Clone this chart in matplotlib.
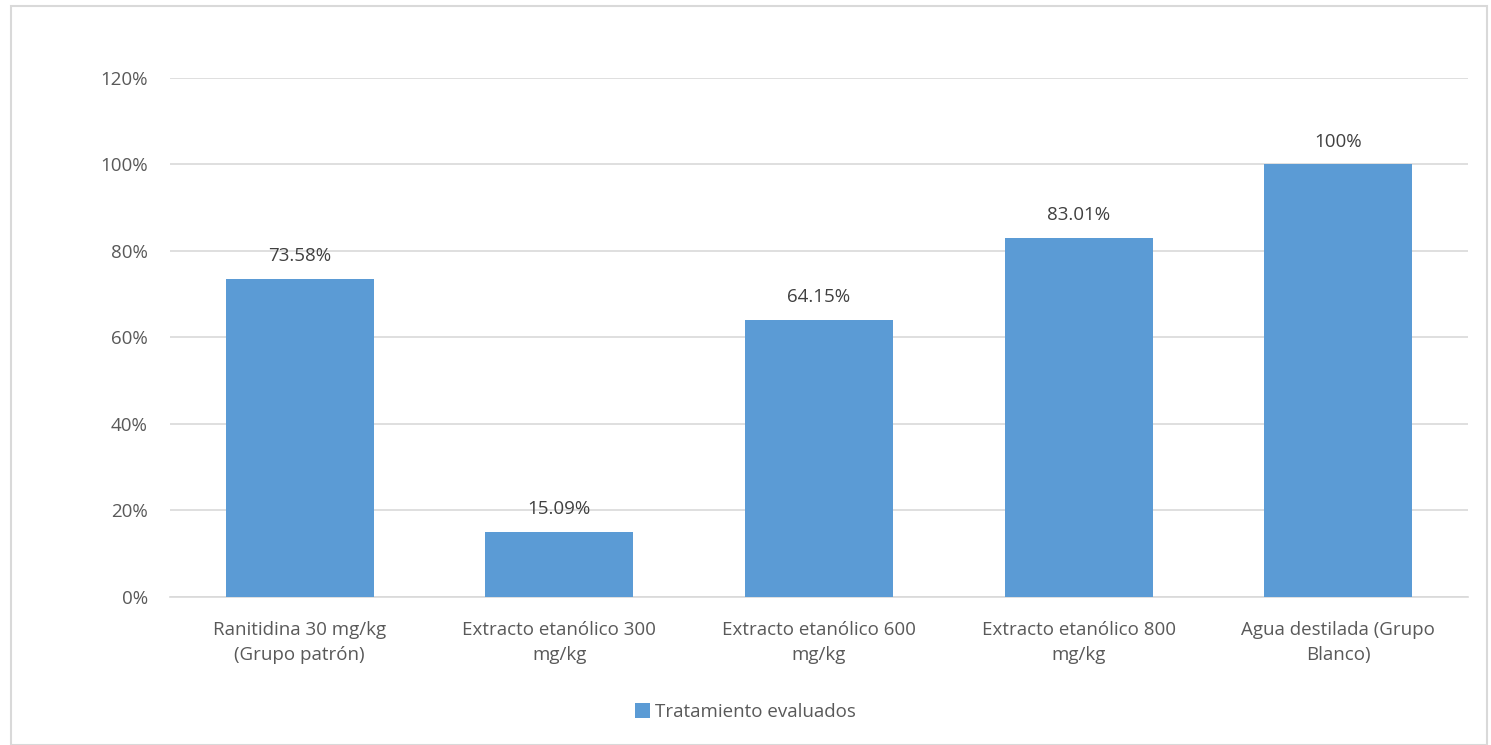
import matplotlib.pyplot as plt
import matplotlib.patches as mpatches
from matplotlib.ticker import FuncFormatter, MultipleLocator

# data
categorias = ['Ranitidina 30 mg/kg\n(Grupo patrón)',
              'Extracto etanólico 300\nmg/kg',
              'Extracto etanólico 600\nmg/kg',
              'Extracto etanólico 800\nmg/kg',
              'Agua destilada (Grupo\nBlanco)']
valores = [73.58, 15.09, 64.15, 83.01, 100]
etiquetas = ['73.58%', '15.09%', '64.15%', '83.01%', '100%']

plt.rcParams['font.family'] = ['Open Sans', 'DejaVu Sans']
texto = '#595959'
azul = '#5B9BD5'

fig = plt.figure(figsize=(14.91, 7.45), dpi=100)
ax = fig.add_axes([0.114, 0.1987, 0.8706, 0.6966])

x = range(len(valores))
barras = ax.bar(x, valores, width=0.57, color=azul, label='Tratamiento evaluados', zorder=3)
for b, t in zip(barras, etiquetas):
    ax.annotate(t, (b.get_x() + b.get_width() / 2, b.get_height()),
                xytext=(0, 10), textcoords='offset points',
                ha='center', va='bottom', fontsize=13.5, color='#404040')

ax.set_ylim(0, 120)
ax.set_xlim(-0.5, len(valores) - 0.5)
ax.yaxis.set_major_locator(MultipleLocator(20))
ax.yaxis.set_major_formatter(FuncFormatter(lambda v, p: f'{v:.0f}%'))
ax.grid(axis='y', color='#D9D9D9', linewidth=1.2, zorder=0)
ax.set_xticks(list(x))
ax.set_xticklabels(categorias, fontsize=13.5, color=texto, linespacing=1.55)
ax.tick_params(axis='y', labelsize=13.5, labelcolor=texto, length=0, pad=16)
ax.tick_params(axis='x', length=0, pad=17)
for s in ['top', 'right', 'left']:
    ax.spines[s].set_visible(False)
ax.spines['bottom'].set_color('#D9D9D9')
ax.spines['bottom'].set_linewidth(1.2)

fig.legend(loc='center', bbox_to_anchor=(0.5, 1 - 712 / 745), frameon=False,
           fontsize=13.5, labelcolor=texto, handlelength=0.8, handleheight=0.8,
           handletextpad=0.3)

# light frame around the chart area
fig.patches.append(mpatches.Rectangle((11 / 1491, 0.0), 1476 / 1491, 1 - 6 / 745,
                                      transform=fig.transFigure, fill=False,
                                      edgecolor='#D9D9D9', linewidth=1.5))

fig.savefig('out.png', dpi=100)
